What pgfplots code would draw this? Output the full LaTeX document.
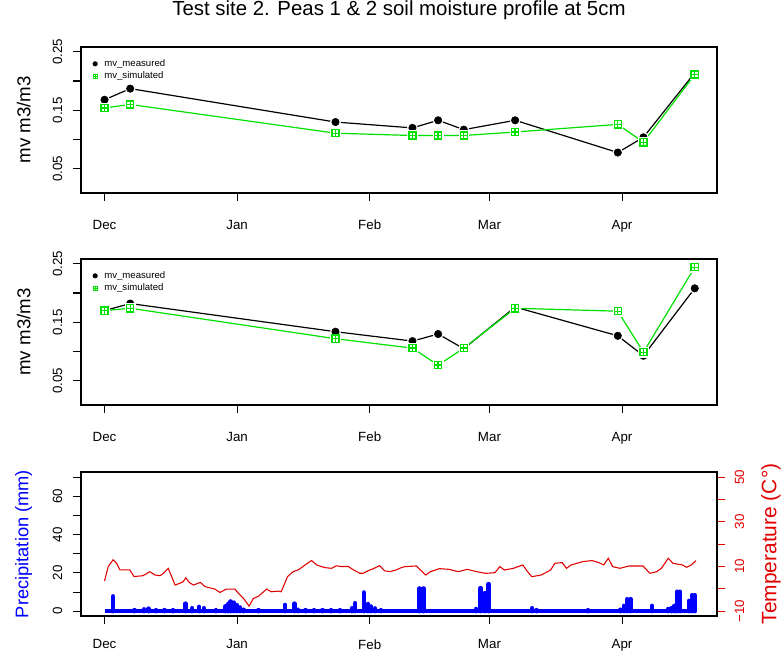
\documentclass[border=0pt]{standalone}
\usepackage{pgfplots}
\pgfplotsset{compat=1.18}
\usepackage{pgfplotstable}
\usepackage{fontspec}
\setmainfont{Liberation Sans}
\definecolor{mgreen}{RGB}{0,225,0}
\definecolor{mred}{RGB}{225,0,0}
\definecolor{mblue}{RGB}{0,0,255}

\pgfdeclareplotmark{sqplus}{%
  \pgfpathrectangle{\pgfpoint{-\pgfplotmarksize}{-\pgfplotmarksize}}{\pgfpoint{2\pgfplotmarksize}{2\pgfplotmarksize}}%
  \pgfpathmoveto{\pgfpoint{-\pgfplotmarksize}{0pt}}\pgfpathlineto{\pgfpoint{\pgfplotmarksize}{0pt}}%
  \pgfpathmoveto{\pgfpoint{0pt}{-\pgfplotmarksize}}\pgfpathlineto{\pgfpoint{0pt}{\pgfplotmarksize}}%
  \pgfusepathqstroke}

\pgfplotstableread{
day meas sim
0   0.168 0.154
6   0.187 0.160
54  0.130 0.111
72  0.120 0.107
78  0.133 0.107
84  0.117 0.107
96  0.133 0.113
120 0.078 0.126
126 0.104 0.0955
138 0.214 0.211
}\topdata

\pgfplotstableread{
day meas sim
0   0.170 0.170
6   0.182 0.174
54  0.134 0.122
72  0.118 0.106
78  0.130 0.077
84  0.105 0.106
96  0.176 0.174
120 0.127 0.169
126 0.093 0.099
138 0.208 0.244
}\middata

\pgfplotstableread{
day P
2.0 7.8
7 0.6
9.2 1.0
10.3 1.4
12 0.6
14 0.6
16 0.6
18.9 4.0
20.5 1.6
22.1 2.3
23.2 1.6
26 0.6
28.3 2.6
28.9 3.8
29.5 5.1
30.3 4.5
31.0 3.2
31.7 2.0
32.5 0.8
36 0.6
42.2 3.3
44.4 4.0
45.2 0.8
47 0.6
49 0.6
51 0.6
53 0.6
55 0.6
57.8 1.6
58.6 4.2
60.6 9.8
61.6 3.8
62.3 2.5
63.2 1.5
64.6 0.6
73.6 11.9
74.6 11.9
86.9 1.2
87.9 12.1
88.9 9.5
89.8 14.2
100 1.6
101 0.6
113 0.6
120.6 0.8
121.4 2.8
122.2 6.3
123.0 6.3
128.0 2.8
131.8 1.2
132.6 1.6
133.3 2.8
133.9 10.2
134.5 10.2
136.6 5.4
137.4 8.4
138.0 8.4
}\precip

\pgfplotstableread{
day T
0 3.5
0.87 10.0
2.0 13.0
2.8 11.5
3.6 8.5
5.9 8.5
6.9 5.5
9.0 5.9
10.6 7.7
11.8 6.2
13.0 5.9
13.8 7.0
14.9 9.2
16.5 1.7
17.6 2.5
18.4 3.2
19.0 5.0
19.8 2.9
20.8 1.7
22.4 2.9
23.5 1.0
25.8 -0.1
27.0 -1.6
28.5 -0.1
30.5 -0.1
31.3 -2.0
32.5 -4.3
33.8 -7.7
34.8 -4.3
36.0 -3.3
37.9 -0.1
39.0 -1.3
40.6 -1.0
41.3 -1.3
42.8 5.5
44.1 7.7
45.3 8.5
46.9 10.7
48.4 12.7
49.6 10.7
51.5 9.5
53.1 9.2
54.2 10.3
55.4 10.0
57.0 10.0
58.2 8.5
59.7 7.0
60.5 7.0
61.6 8.1
62.8 9.0
64.3 10.4
65.5 8.1
66.7 7.7
68.2 8.5
69.4 9.5
70.2 9.95
72.9 10.25
75.1 6.2
76.2 7.7
78.3 9.05
80.5 8.75
82.7 7.7
84.8 8.75
87.0 7.7
89.1 6.95
91.3 7.25
92.4 9.95
93.5 8.45
95.6 9.2
97.8 10.7
98.9 7.7
99.9 5.45
102.1 6.2
104.3 8.45
105.3 11.45
107.0 11.75
108.0 9.2
109.1 10.7
111.8 12.2
114.0 12.65
115.6 11.75
116.7 10.7
117.8 13.7
118.8 9.95
120.5 9.2
122.6 10.25
125.9 10.25
127.5 6.95
129.1 7.7
130.2 9.2
131.8 13.7
132.9 11.45
135.1 10.7
136.1 9.65
137.2 10.7
138.3 12.65
}\temp

\pgfplotsset{
  mylegimg/.style={legend image code/.code={\draw[##1] plot coordinates {(0pt,0pt)};}},
  rbase/.style={
    scale only axis, width=477pt,
    xmin=-5.5, xmax=143.2,
    xtick={0,31,62,90,121}, xticklabels={Dec,Jan,Feb,Mar,Apr},
    axis line style={-, line width=0.8pt, black},
    tick align=outside, major tick length=6pt,
    tick style={line width=0.8pt, black},
    xtick pos=bottom, ytick pos=left,
    ticklabel style={font=\fontsize{10}{12}\selectfont},
    yticklabel style={rotate=90, anchor=south, yshift=4.5pt},
    /pgf/number format/assume math mode=true,
    every axis y label/.style={at={(axis description cs:-0.09,0.5)}, rotate=90, anchor=center, font=\fontsize{14}{16}\selectfont},
  },
  mvpanel/.style={
    rbase, height=109.5pt,
    xticklabel style={yshift=-10.75pt},
    ymin=0.009, ymax=0.258,
    ytick={0.05,0.1,0.15,0.2,0.25}, yticklabels={0.05,,0.15,,0.25},
    ylabel={mv m3/m3},
    legend style={at={(axis description cs:0.012,0.94)}, anchor=north west, draw=none, fill=none,
      font=\fontsize{7.2}{8.6}\selectfont, legend cell align=left,
      nodes={inner sep=0.5pt}, row sep=1.8pt,
      /tikz/every odd column/.append style={column sep=4.7pt}},
  },
}

\begin{document}
\begin{tikzpicture}
\useasboundingbox (0,0) rectangle (586.5pt,489pt);

% ---------- top panel ----------
\begin{axis}[mvpanel, at={(60.75pt,344.25pt)}, anchor=south west,
  title={Test site 2. Peas 1 \& 2 soil moisture profile at 5cm},
  title style={at={(axis description cs:0.5,1)}, anchor=base, yshift=17.25pt, font=\fontsize{15.3}{18}\selectfont}]
\addlegendimage{only marks, mark=*, mark size=1.7pt, black, mylegimg}
\addlegendentry{mv\_measured}
\addlegendimage{only marks, mark=sqplus, mark size=1.6pt, mgreen, mark options={line width=0.7pt}, mylegimg}
\addlegendentry{mv\_simulated}
\addplot[black, line width=0.9pt, forget plot] table[x=day, y=meas] {\topdata};
\addplot[only marks, mark=*, mark size=3.8pt, white, forget plot] table[x=day, y=meas] {\topdata};
\addplot[only marks, mark=*, mark size=2.8pt, black, forget plot] table[x=day, y=meas] {\topdata};
\addplot[mgreen, line width=0.9pt, forget plot] table[x=day, y=sim] {\topdata};
\addplot[only marks, mark=square*, mark size=3.6pt, white, forget plot] table[x=day, y=sim] {\topdata};
\addplot[only marks, mark=sqplus, mark size=2.7pt, mgreen, mark options={line width=1pt}, forget plot] table[x=day, y=sim] {\topdata};
\end{axis}

% ---------- middle panel ----------
\begin{axis}[mvpanel, at={(60.75pt,185.25pt)}, anchor=south west]
\addlegendimage{only marks, mark=*, mark size=1.7pt, black, mylegimg}
\addlegendentry{mv\_measured}
\addlegendimage{only marks, mark=sqplus, mark size=1.6pt, mgreen, mark options={line width=0.7pt}, mylegimg}
\addlegendentry{mv\_simulated}
\addplot[black, line width=0.9pt, forget plot] table[x=day, y=meas] {\middata};
\addplot[only marks, mark=*, mark size=3.8pt, white, forget plot] table[x=day, y=meas] {\middata};
\addplot[only marks, mark=*, mark size=2.8pt, black, forget plot] table[x=day, y=meas] {\middata};
\addplot[mgreen, line width=0.9pt, forget plot] table[x=day, y=sim] {\middata};
\addplot[only marks, mark=square*, mark size=3.6pt, white, forget plot] table[x=day, y=sim] {\middata};
\addplot[only marks, mark=sqplus, mark size=2.7pt, mgreen, mark options={line width=1pt}, forget plot] table[x=day, y=sim] {\middata};
\end{axis}

% ---------- bottom panel: precipitation ----------
\begin{axis}[rbase, height=108pt, at={(60.75pt,27pt)}, anchor=south west,
  xticklabel style={yshift=-8.25pt},
  ymin=-2.5, ymax=72.7,
  ytick={0,10,...,70}, yticklabels={0,,20,,40,,60,},
  ylabel={Precipitation (mm)},
  every axis y label/.style={at={(axis description cs:-0.09,0.5)}, rotate=90, anchor=center, font=\fontsize{13.7}{16}\selectfont, mblue}]
\addplot[mblue, line width=3.3pt] coordinates {(0,0) (138,0)};
\addplot[ycomb, mblue, line width=3.3pt, line cap=round] table[x=day, y=P] {\precip};
\end{axis}

% ---------- bottom panel: temperature ----------
\begin{axis}[scale only axis, width=477pt, height=108pt, at={(60.75pt,27pt)}, anchor=south west,
  xmin=-5.5, xmax=143.2, ymin=-12.14, ymax=52.31,
  axis x line=none, axis y line*=right,
  axis line style={-, line width=0.8pt, black},
  tick align=outside, major tick length=6pt,
  ytick={-10,0,...,50}, yticklabels={−10,,10,,30,,50},
  ytick style={line width=0.8pt, mred},
  yticklabel style={rotate=90, anchor=north, yshift=-3.75pt, mred, font=\fontsize{10}{12}\selectfont},
  /pgf/number format/assume math mode=true,
  ylabel={Temperature (C°)},
  every axis y label/.style={at={(axis description cs:1.085,0.5)}, rotate=90, anchor=center, font=\fontsize{15.7}{18}\selectfont, mred}]
\addplot[mred, line width=0.8pt] table[x=day, y=T] {\temp};
\end{axis}
\end{tikzpicture}
\end{document}
